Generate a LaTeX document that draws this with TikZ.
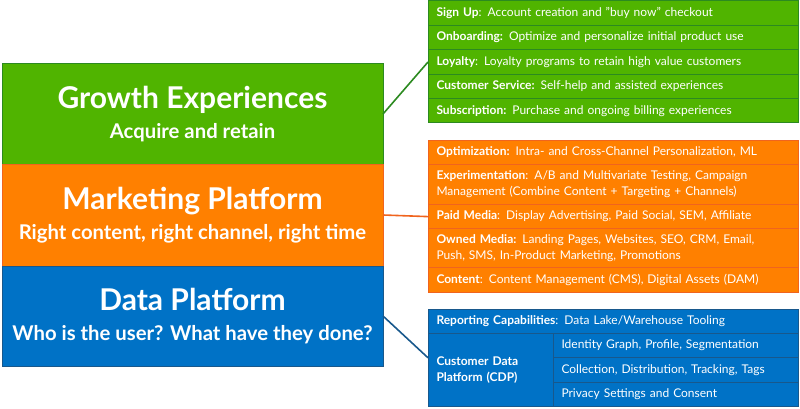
\documentclass[tikz,border=0pt]{standalone}
\usepackage{fontspec}
\setmainfont{Lato}
\usetikzlibrary{positioning}
\definecolor{growfill}{RGB}{80,180,0}
\definecolor{growline}{RGB}{44,138,32}
\definecolor{mktfill}{RGB}{255,128,0}
\definecolor{mktline}{RGB}{240,100,30}
\definecolor{datafill}{RGB}{0,114,198}
\definecolor{dataline}{RGB}{24,88,140}
\newcommand{\bigtitle}[2]{{\fontsize{30}{32}\selectfont #1\vphantom{p}}\\[9pt]{\fontsize{20.3}{22}\selectfont #2}}
\begin{document}
\begin{tikzpicture}[x=1pt,y=-1pt,
	layer/.style={draw,line width=1pt,outer sep=0pt,minimum width=381pt,text=white,font=\bfseries,align=center},
	row/.style={draw,line width=1pt,outer sep=0pt,anchor=north west,text=white,align=left,text width=#1,
		inner xsep=8.5pt,inner ysep=0pt,font=\fontsize{12}{16}\selectfont},
	row/.default=353pt,
	link/.style={line width=1.6pt}]
	\useasboundingbox (0,0) rectangle (800,409);
	%% left layers
	\node[layer,fill=growfill,draw=growline,minimum height=100pt,anchor=north west] (growth) at (2,64)
		{\bigtitle{Growth Experiences}{Acquire and retain}};
	\node[layer,fill=mktfill,draw=mktline,minimum height=102pt,below=0pt of growth] (mkt)
		{\bigtitle{Marketing Platform}{Right content, right channel, right time}};
	\node[layer,fill=datafill,draw=dataline,minimum height=100pt,below=0pt of mkt] (data)
		{\bigtitle{Data Platform}{Who is the user? What have they done?}};
	%% growth list
	\begin{scope}[every node/.append style={row,fill=growfill,draw=growline,minimum height=24.4pt}]
		\node (signup) at (428,1) {\textbf{Sign Up}: Account creation and "buy now" checkout};
		\node[below=0pt of signup.south west,anchor=north west] (onboard) {\textbf{Onboarding:} Optimize and personalize initial product use};
		\node[below=0pt of onboard.south west,anchor=north west] (loyal) {\textbf{Loyalty}: Loyalty programs to retain high value customers};
		\node[below=0pt of loyal.south west,anchor=north west] (service) {\textbf{Customer Service:} Self-help and assisted experiences};
		\node[below=0pt of service.south west,anchor=north west] (subscr) {\textbf{Subscription:} Purchase and ongoing billing experiences};
	\end{scope}
	%% marketing list
	\begin{scope}[every node/.append style={row,fill=mktfill,draw=mktline,minimum height=24.4pt}]
		\node (optim) at (428,140) {\textbf{Optimization:} Intra- and Cross-Channel Personalization, ML};
		\node[below=0pt of optim.south west,anchor=north west,minimum height=40pt] (exper)
			{\textbf{Experimentation}: A/B and Multivariate Testing, Campaign\\Management (Combine Content + Targeting + Channels)};
		\node[below=0pt of exper.south west,anchor=north west] (paid) {\textbf{Paid Media}: Display Advertising, Paid Social, SEM, Affiliate};
		\node[below=0pt of paid.south west,anchor=north west,minimum height=39pt] (owned)
			{\textbf{Owned Media:} Landing Pages, Websites, SEO, CRM, Email,\\Push, SMS, In-Product Marketing, Promotions};
		\node[below=0pt of owned.south west,anchor=north west] (content) {\textbf{Content}: Content Management (CMS), Digital Assets (DAM)};
	\end{scope}
	%% data list
	\begin{scope}[every node/.append style={fill=datafill,draw=dataline,minimum height=24.4pt}]
		\node[row] (report) at (428,309) {\textbf{Reporting Capabilities}: Data Lake/Warehouse Tooling};
		\node[row=108pt,below=0pt of report.south west,anchor=north west,minimum height=73.2pt] (cdp)
			{\textbf{Customer Data}\\\textbf{Platform (CDP)}};
		\node[row=228pt] (ident) at (cdp.north east) {Identity Graph, Profile, Segmentation};
		\node[row=228pt,below=0pt of ident.south west,anchor=north west] (collect) {Collection, Distribution, Tracking, Tags};
		\node[row=228pt,below=0pt of collect.south west,anchor=north west] (privacy) {Privacy Settings and Consent};
	\end{scope}
	%% connectors
	\draw[link,growline] (growth.east) -- (loyal.west);
	\draw[link,mktline] (mkt.east) -- (paid.west);
	\draw[link,dataline] (data.east) -- (cdp.west |- ident.south);
\end{tikzpicture}
\end{document}
